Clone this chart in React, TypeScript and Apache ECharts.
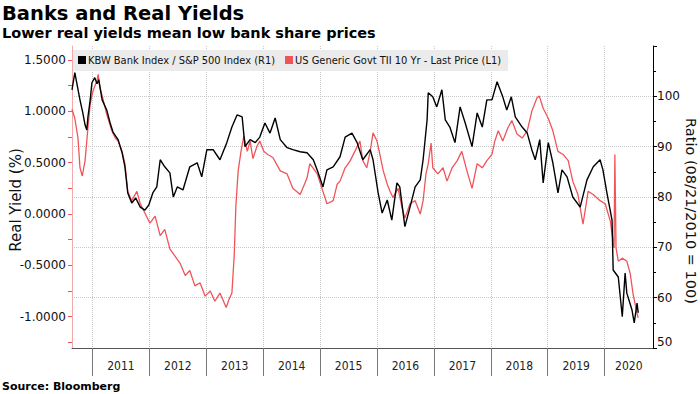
import React, { useEffect, useRef } from "react";
import * as echarts from "echarts";

const TITLE = "Banks and Real Yields";
const SUBTITLE = "Lower real yields mean low bank share prices";
const SOURCE = "Source: Bloomberg";
const LEFT_NAME = "Real Yield (%)";
const RIGHT_NAME = "Ratio (08/21/2010 = 100)";
const BLACK_NAME = "KBW Bank Index / S&P 500 Index (R1)";
const RED_NAME = "US Generic Govt TII 10 Yr - Last Price (L1)";

const yearTicks = [2011, 2012, 2013, 2014, 2015, 2016, 2017, 2018, 2019, 2020];
const leftLabels = [-1, -0.5, 0, 0.5, 1, 1.5];
const leftTicks = [-1.25, -1, -0.75, -0.5, -0.25, 0, 0.25, 0.5, 0.75, 1, 1.25, 1.5];

// KBW Bank Index / S&P 500 ratio (right axis), time in decimal years
const blackT = [
  2010.64, 2010.675, 2010.69, 2010.73, 2010.78, 2010.83, 2010.87, 2010.9, 2010.92, 2010.96,
  2010.99, 2011.04, 2011.08, 2011.11, 2011.17, 2011.25, 2011.31, 2011.36, 2011.45, 2011.52,
  2011.57, 2011.62, 2011.69, 2011.76, 2011.84, 2011.92, 2011.99, 2012.06, 2012.13, 2012.19,
  2012.27, 2012.36, 2012.42, 2012.49, 2012.59, 2012.71, 2012.84, 2012.92, 2013.01, 2013.12,
  2013.24, 2013.36, 2013.45, 2013.54, 2013.63, 2013.68, 2013.77, 2013.86, 2013.94, 2014.03,
  2014.12, 2014.21, 2014.3, 2014.42, 2014.52, 2014.65, 2014.77, 2014.88, 2014.96, 2015.05,
  2015.12, 2015.23, 2015.35, 2015.44, 2015.56, 2015.65, 2015.75, 2015.88, 2015.93, 2016.02,
  2016.09, 2016.18, 2016.26, 2016.35, 2016.4, 2016.49, 2016.58, 2016.67, 2016.76, 2016.81,
  2016.88, 2016.9, 2016.98, 2017.05, 2017.14, 2017.2, 2017.28, 2017.37, 2017.46, 2017.55,
  2017.67, 2017.76, 2017.85, 2017.93, 2018.02, 2018.11, 2018.21, 2018.28, 2018.36, 2018.43,
  2018.55, 2018.64, 2018.72, 2018.78, 2018.86, 2018.92, 2019.01, 2019.09, 2019.18, 2019.25,
  2019.34, 2019.44, 2019.57, 2019.69, 2019.8, 2019.92, 2019.97, 2020.04, 2020.13, 2020.15,
  2020.24, 2020.31, 2020.36, 2020.39, 2020.48, 2020.52, 2020.57, 2020.59,
];
const blackV = [
  101.3, 103.7, 104.7, 102.3, 99.3, 96.7, 94.3, 93.3, 95.9, 99.3,
  102.7, 103.7, 102.5, 103.3, 99.3, 97.3, 94.7, 92.9, 91.4, 88.8,
  86.0, 80.8, 78.8, 79.8, 78.0, 77.4, 78.4, 80.8, 82.0, 87.4,
  86.0, 84.8, 80.0, 82.0, 81.4, 86.0, 86.8, 84.0, 89.4, 89.4,
  87.4, 90.8, 93.9, 96.3, 95.9, 90.0, 91.4, 90.8, 91.9, 94.7,
  92.7, 95.7, 91.4, 89.8, 89.4, 89.0, 88.8, 87.4, 85.0, 82.0,
  85.4, 86.0, 88.0, 91.9, 92.7, 90.8, 87.4, 89.4, 87.4, 80.8,
  76.8, 79.4, 75.4, 82.8, 82.0, 74.1, 78.0, 82.0, 83.4, 87.4,
  95.3, 100.7, 99.9, 97.9, 101.3, 95.3, 93.9, 90.8, 97.9, 94.7,
  90.0, 96.7, 93.9, 99.3, 99.3, 102.9, 99.9, 97.3, 99.9, 95.9,
  93.9, 92.7, 89.4, 87.4, 91.4, 82.8, 90.8, 86.8, 80.8, 85.4,
  84.0, 80.0, 78.0, 83.4, 86.0, 87.4, 85.4, 80.8, 75.4, 65.5,
  64.1, 56.2, 64.9, 60.9, 57.6, 55.0, 58.9, 57.0,
];

// US Generic Govt TII 10 Yr (left axis), time in decimal years
const redT = [
  2010.64, 2010.69, 2010.745, 2010.78, 2010.82, 2010.87, 2010.92, 2010.96, 2011.01, 2011.08,
  2011.1, 2011.13, 2011.18, 2011.25, 2011.34, 2011.4, 2011.45, 2011.52, 2011.57, 2011.62,
  2011.69, 2011.78, 2011.84, 2011.92, 2012.01, 2012.1, 2012.19, 2012.27, 2012.36, 2012.45,
  2012.54, 2012.63, 2012.71, 2012.8, 2012.89, 2012.98, 2013.07, 2013.15, 2013.24, 2013.35,
  2013.4, 2013.45, 2013.49, 2013.52, 2013.56, 2013.61, 2013.66, 2013.72, 2013.77, 2013.82,
  2013.89, 2013.94, 2014.01, 2014.08, 2014.17, 2014.3, 2014.42, 2014.52, 2014.65, 2014.77,
  2014.82, 2014.95, 2015.05, 2015.12, 2015.23, 2015.3, 2015.35, 2015.44, 2015.53, 2015.61,
  2015.7, 2015.75, 2015.82, 2015.88, 2015.93, 2016.0, 2016.05, 2016.11, 2016.18, 2016.23,
  2016.28, 2016.37, 2016.44, 2016.49, 2016.58, 2016.67, 2016.76, 2016.81, 2016.86, 2016.9,
  2016.95, 2016.98, 2017.07, 2017.16, 2017.23, 2017.32, 2017.41, 2017.49, 2017.58, 2017.67,
  2017.76, 2017.85, 2017.93, 2018.02, 2018.07, 2018.13, 2018.21, 2018.3, 2018.37, 2018.46,
  2018.55, 2018.64, 2018.72, 2018.81, 2018.85, 2018.92, 2019.01, 2019.09, 2019.18, 2019.27,
  2019.36, 2019.44, 2019.53, 2019.62, 2019.71, 2019.8, 2019.92, 2020.01, 2020.1, 2020.165,
  2020.18, 2020.2, 2020.24, 2020.31, 2020.39, 2020.45, 2020.5, 2020.57, 2020.59,
];
const redV = [
  1.02, 0.93, 0.74, 0.45, 0.37, 0.52, 0.84, 1.07, 1.2, 1.3,
  1.36, 1.23, 1.13, 0.97, 0.81, 0.74, 0.71, 0.61, 0.49, 0.22,
  0.13, 0.22, 0.1, 0.01, -0.09, -0.02, -0.21, -0.15, -0.34, -0.41,
  -0.48, -0.6, -0.55, -0.7, -0.67, -0.8, -0.75, -0.85, -0.77, -0.91,
  -0.83, -0.77, -0.41, 0.08, 0.42, 0.61, 0.76, 0.61, 0.71, 0.54,
  0.66, 0.71, 0.61, 0.58, 0.55, 0.42, 0.39, 0.25, 0.19, 0.35,
  0.49, 0.39, 0.22, 0.1, 0.13, 0.29, 0.32, 0.45, 0.52, 0.61,
  0.71, 0.52, 0.45, 0.61, 0.79, 0.71, 0.58, 0.42, 0.29, 0.22,
  0.16, 0.25, 0.06, -0.04, 0.1, 0.13, 0.0, 0.13, 0.39, 0.49,
  0.69, 0.45, 0.39, 0.45, 0.32, 0.45, 0.52, 0.61, 0.42, 0.25,
  0.49, 0.45, 0.52, 0.58, 0.71, 0.81, 0.71, 0.84, 0.91, 0.78,
  0.74, 0.81, 1.0, 1.13, 1.15, 1.03, 0.93, 0.81, 0.61, 0.58,
  0.52, 0.32, 0.19, -0.1, 0.22, 0.19, 0.13, 0.1, -0.07, -0.33,
  0.58, -0.33, -0.46, -0.43, -0.46, -0.58, -0.78, -0.97, -1.01,
];

const X_MIN = 2010.64;
const X_MAX = 2020.85;

const RED = "#f05459";
const SANS = "'DejaVu Sans', Verdana, sans-serif";
const COND = "'DejaVu Sans Condensed', 'DejaVu Sans', sans-serif";

export default function App() {
  const ref = useRef<HTMLDivElement>(null);
  useEffect(() => {
    if (!ref.current) return;
    const chart = echarts.init(ref.current, null, { renderer: "svg" });
    const labelPos = yearTicks.map((y) => Math.min(y + 0.5, (y + X_MAX) / 2));
    const blackData = blackT.map((t, i) => [t, blackV[i]]);
    const redData = redT.map((t, i) => [t, redV[i]]);
    chart.setOption({
      animation: false,
      backgroundColor: "#ffffff",
      grid: { left: 72, right: 47, top: 46, bottom: 46, containLabel: false },
      xAxis: {
        type: "value",
        min: X_MIN,
        max: X_MAX,
        axisLine: { show: true, onZero: false, lineStyle: { color: "#555", width: 1 } },
        axisTick: { show: true, length: 28, lineStyle: { color: "#777" }, customValues: yearTicks },
        axisLabel: {
          customValues: labelPos,
          formatter: (v: number) => String(Math.floor(v + 1e-6)),
          color: "#222",
          fontSize: 12,
          fontFamily: COND,
          margin: 12,
        },
        splitLine: { show: true, lineStyle: { color: "#c8c8c8", type: "dotted" } },
      },
      yAxis: [
        {
          type: "value",
          position: "left",
          min: -1.305,
          max: 1.636,
          axisLine: { show: true, lineStyle: { color: "#f4a9ab" } },
          axisTick: { show: true, length: 4, lineStyle: { color: RED }, customValues: leftTicks },
          axisLabel: {
            customValues: leftLabels,
            formatter: (v: number) => v.toFixed(4),
            color: "#111",
            fontSize: 12,
            fontFamily: SANS,
            margin: 6,
          },
          splitLine: { show: false },
        },
        {
          type: "value",
          position: "right",
          min: 50,
          max: 110,
          interval: 10,
          axisLine: { show: true, lineStyle: { color: "#000" } },
          axisTick: { show: true, length: 4, lineStyle: { color: "#000" } },
          minorTick: { show: true, splitNumber: 2, length: 3, lineStyle: { color: "#000" } },
          axisLabel: {
            formatter: (v: number) => (v >= 110 ? "" : String(v)),
            color: "#111",
            fontSize: 12,
            fontFamily: SANS,
            margin: 4,
            verticalAlignMinLabel: "bottom",
          },
          splitLine: { show: true, showMaxLine: false, lineStyle: { color: "#c8c8c8", type: "dotted" } },
        },
      ],
      series: [
        {
          name: RED_NAME,
          type: "line",
          yAxisIndex: 0,
          data: redData,
          showSymbol: false,
          lineStyle: { color: RED, width: 1.3 },
          itemStyle: { color: RED },
          z: 2,
        },
        {
          name: BLACK_NAME,
          type: "line",
          yAxisIndex: 1,
          data: blackData,
          showSymbol: false,
          lineStyle: { color: "#000", width: 1.4 },
          itemStyle: { color: "#000" },
          z: 3,
        },
      ],
      graphic: [
        { type: "text", x: 2, y: 13, z: 100, style: { text: TITLE, fill: "#000", font: `bold 19.5px ${SANS}`, verticalAlign: "middle" } },
        { type: "text", x: 2, y: 33, z: 100, style: { text: SUBTITLE, fill: "#000", font: `bold 14.5px ${SANS}`, verticalAlign: "middle" } },
        { type: "text", x: 2, y: 386, z: 100, style: { text: SOURCE, fill: "#000", font: `bold 11px ${SANS}`, verticalAlign: "middle" } },
        { type: "text", x: 16, y: 200, rotation: Math.PI / 2, z: 100, style: { text: LEFT_NAME, fill: "#111", font: `15px ${SANS}`, align: "center", verticalAlign: "middle" } },
        { type: "text", x: 691, y: 211, rotation: -Math.PI / 2, z: 100, style: { text: RIGHT_NAME, fill: "#111", font: `14.5px ${SANS}`, align: "center", verticalAlign: "middle" } },
        { type: "rect", z: 100, shape: { x: 73, y: 50, width: 435, height: 21 }, style: { fill: "#ebebeb" } },
        { type: "rect", z: 101, shape: { x: 78, y: 56, width: 8, height: 8 }, style: { fill: "#000" } },
        { type: "text", x: 88, y: 60.5, z: 101, style: { text: BLACK_NAME, fill: "#111", font: `11px ${COND}`, verticalAlign: "middle" } },
        { type: "rect", z: 101, shape: { x: 285, y: 56, width: 8, height: 8 }, style: { fill: RED } },
        { type: "text", x: 295, y: 60.5, z: 101, style: { text: RED_NAME, fill: "#111", font: `11px ${COND}`, verticalAlign: "middle" } },
      ],
    });
    return () => chart.dispose();
  }, []);
  return <div ref={ref} style={{ position: "absolute", left: 0, top: 0, width: 700, height: 394 }} />;
}
